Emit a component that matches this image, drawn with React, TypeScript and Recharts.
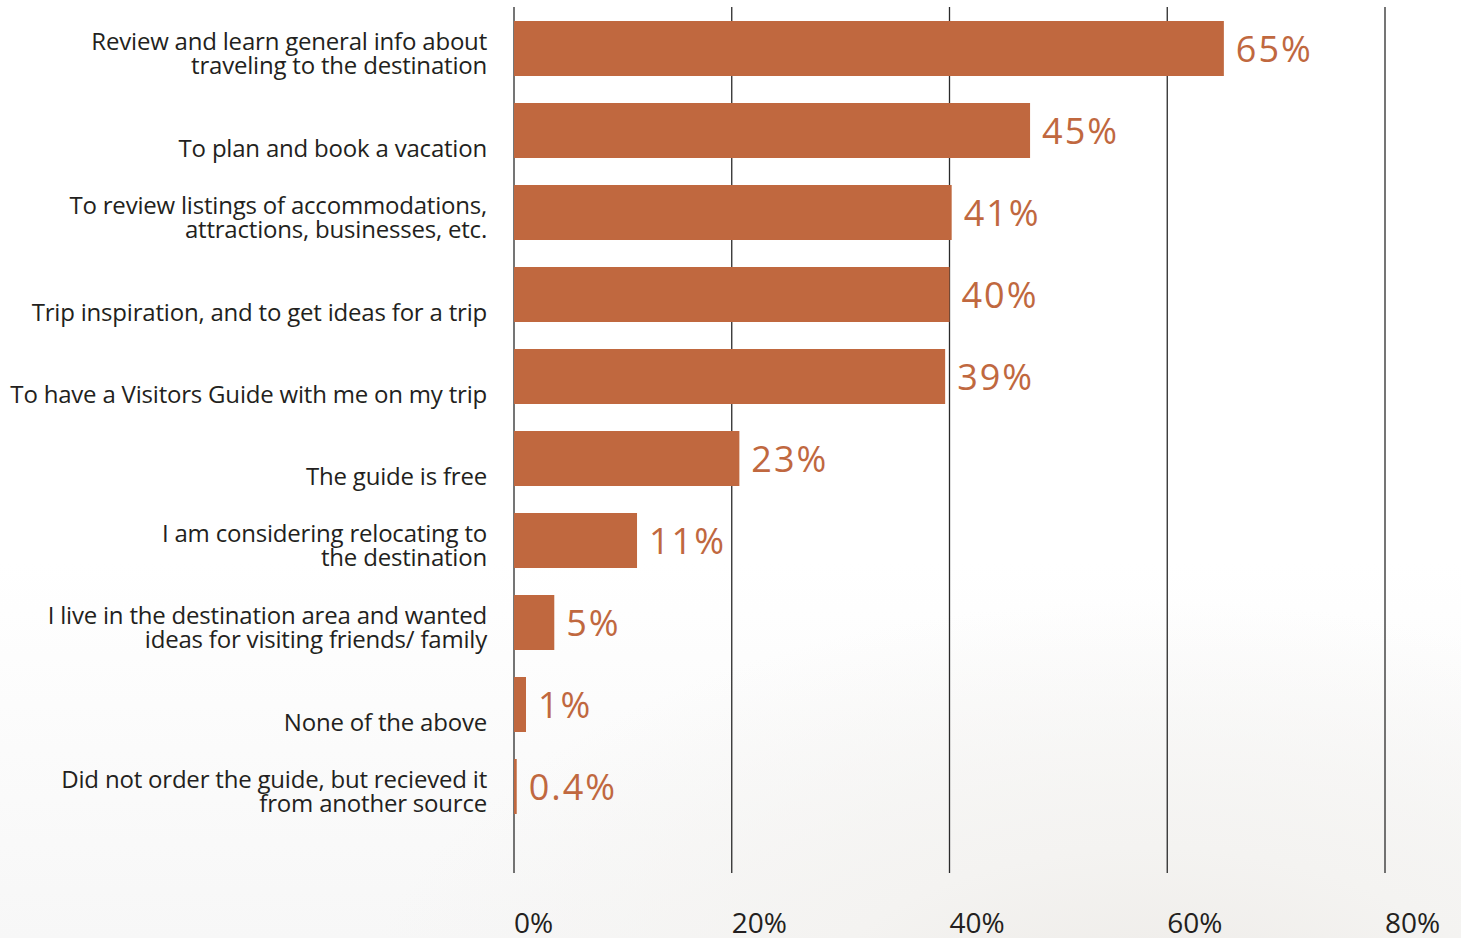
import React from "react";
import { BarChart, Bar, XAxis, YAxis, CartesianGrid, LabelList } from "recharts";

const categories: string[][] = [
  ["Review and learn general info about", "traveling to the destination"],
  ["To plan and book a vacation"],
  ["To review listings of accommodations,", "attractions, businesses, etc."],
  ["Trip inspiration, and to get ideas for a trip"],
  ["To have a Visitors Guide with me on my trip"],
  ["The guide is free"],
  ["I am considering relocating to", "the destination"],
  ["I live in the destination area and wanted", "ideas for visiting friends/ family"],
  ["None of the above"],
  ["Did not order the guide, but recieved it", "from another source"],
];
const barValues: number[] = [65.2, 47.4, 40.2, 40.0, 39.6, 20.7, 11.3, 3.7, 1.1, 0.25];
const valueLabels: string[] = ["65%", "45%", "41%", "40%", "39%", "23%", "11%", "5%", "1%", "0.4%"];
const xTicks: number[] = [0, 20, 40, 60, 80];

const data = categories.map((c, i) => ({
  key: String(i),
  value: barValues[i],
  label: valueLabels[i],
}));

const BAR = "#c0683f";
const TEXT = "#231f20";
const FONT = "'Open Sans', sans-serif";

const YTick = (props: any) => {
  const { x, y, payload } = props;
  const lines = categories[Number(payload.value)] || [];
  return (
    <g>
      {lines.length === 1 ? (
        <text x={x} y={y + 26.5} textAnchor="end" fill={TEXT} fontSize={24} fontFamily={FONT} letterSpacing={-0.2}>
          {lines[0]}
        </text>
      ) : (
        lines.map((l, i) => (
          <text key={i} x={x} y={y + 1.5 + i * 24} textAnchor="end" fill={TEXT} fontSize={24} fontFamily={FONT} letterSpacing={-0.2}>
            {l}
          </text>
        ))
      )}
    </g>
  );
};

const XTick = (props: any) => {
  const { x, y, payload } = props;
  return (
    <text x={x} y={y + 60} textAnchor="start" fill={TEXT} fontSize={28} fontFamily={FONT}>
      {payload.value}%
    </text>
  );
};

const ValueLabel = (props: any) => {
  const { x, y, width, height, index } = props;
  return (
    <text
      x={x + width + 12}
      y={y + height / 2 + 13}
      fill={BAR}
      fontSize={36}
      fontFamily={FONT}
      letterSpacing={2}
      textAnchor="start"
    >
      {valueLabels[index]}
    </text>
  );
};

export default function App() {
  return (
    <div
      style={{
        position: "absolute",
        left: 0,
        top: 0,
        width: 1461,
        height: 938,
        background:
          "radial-gradient(ellipse 800px 450px at 1150px 1050px, #ece9e5 0%, #f4f3f1 45%, rgba(255,255,255,0) 100%), linear-gradient(#ffffff 0%, #ffffff 60%, #f7f7f7 100%)",
      }}
    >
      <BarChart
        width={1461}
        height={938}
        data={data}
        layout="vertical"
        margin={{ top: 7, right: 76, bottom: 0, left: 0 }}
      >
        <CartesianGrid vertical={true} horizontal={false} stroke="#2b2b2b" strokeWidth={1.3} />
        <XAxis
          type="number"
          domain={[0, 80]}
          ticks={xTicks}
          axisLine={false}
          tickLine={false}
          tickSize={0}
          tickMargin={0}
          height={65}
          tick={<XTick />}
          interval={0}
        />
        <YAxis
          type="category"
          dataKey="key"
          width={514}
          axisLine={false}
          tickLine={false}
          tickSize={0}
          tickMargin={27}
          padding={{ top: 0, bottom: 46 }}
          tick={<YTick />}
          interval={0}
        />
        <Bar dataKey="value" fill={BAR} barSize={55} isAnimationActive={false}>
          <LabelList dataKey="label" content={<ValueLabel />} />
        </Bar>
      </BarChart>
    </div>
  );
}
